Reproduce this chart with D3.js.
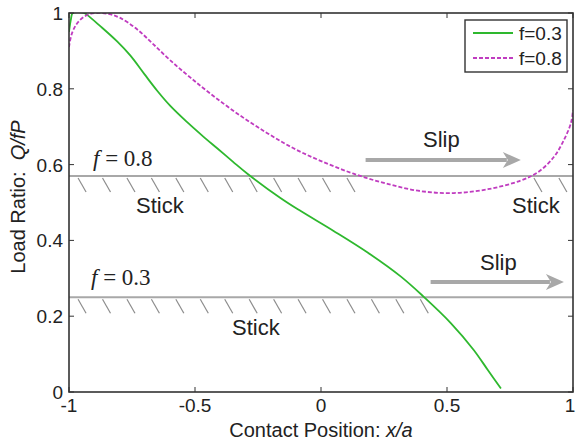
<!DOCTYPE html>
<html>
<head>
<meta charset="utf-8">
<script src="https://cdn.jsdelivr.net/npm/d3@7"></script>
<style>
  body { margin: 0; background: #fff; }
  text { font-family: "Liberation Sans", Arial, sans-serif; fill: #222; }
</style>
</head>
<body>
<div id="chart"></div>
<script>
// values
const xTicks = [-1, -0.5, 0, 0.5, 1];
const yTicks = [0, 0.2, 0.4, 0.6, 0.8, 1];

const xF03 = [-1, -0.992, -0.985, -0.94, -0.928, -0.877, -0.809, -0.757, -0.7, -0.65, -0.598, -0.531, -0.467, -0.412, -0.35, -0.292, -0.161, -0.082, 0.05, 0.185, 0.316, 0.408, 0.515, 0.606, 0.662, 0.714];
const yF03 = [0.95, 0.985, 1.0, 1.0, 0.995, 0.966, 0.925, 0.888, 0.838, 0.795, 0.755, 0.712, 0.674, 0.643, 0.608, 0.576, 0.512, 0.478, 0.425, 0.368, 0.305, 0.251, 0.182, 0.111, 0.058, 0.009];

const xF08 = [-1, -0.988, -0.964, -0.93, -0.889, -0.84, -0.797, -0.73, -0.666, -0.598, -0.519, -0.427, -0.32, -0.213, -0.109, -0.002, 0.129, 0.264, 0.396, 0.527, 0.662, 0.793, 0.861, 0.924, 0.964, 0.992, 1.0];
const yF08 = [0.91, 0.947, 0.976, 0.994, 1.0, 0.997, 0.987, 0.957, 0.918, 0.875, 0.83, 0.781, 0.729, 0.683, 0.643, 0.61, 0.576, 0.549, 0.53, 0.525, 0.535, 0.558, 0.58, 0.62, 0.665, 0.71, 0.744];

const legendLabels = ["f=0.3", "f=0.8"];
const limitValues = [0.57, 0.25];
const limitLabels = ["0.8", "0.3"];

const width = 576, height = 442;
const margin = { top: 13, right: 3, bottom: 50, left: 69 };

const svg = d3.select("#chart").append("svg")
  .attr("width", width)
  .attr("height", height);

const x = d3.scaleLinear().domain([-1, 1]).range([margin.left, width - margin.right]);
const y = d3.scaleLinear().domain([0, 1]).range([height - margin.bottom, margin.top]);

svg.append("clipPath").attr("id", "plot-clip")
  .append("rect")
  .attr("x", x(-1)).attr("y", y(1))
  .attr("width", x(1) - x(-1)).attr("height", y(0) - y(1));

const grey = "#a8a8a8";
const hatchGrey = "#8c8c8c";

// stick/slip limit lines with hatching
limitValues.forEach(v => {
  svg.append("line")
    .attr("x1", x(-1)).attr("x2", x(1))
    .attr("y1", y(v)).attr("y2", y(v))
    .attr("stroke", grey).attr("stroke-width", 2);
});

const hatch08 = d3.range(12).map(i => -0.964 + i * 0.097).concat([0.845, 0.944]);
const hatch03 = d3.range(15).map(i => -0.964 + i * 0.097);

function drawHatch(list, v) {
  svg.append("g").selectAll("line")
    .data(list)
    .enter().append("line")
    .attr("x1", d => x(d))
    .attr("y1", y(v) + 2)
    .attr("x2", d => x(d) + 8)
    .attr("y2", y(v) + 16)
    .attr("stroke", hatchGrey)
    .attr("stroke-width", 1.2);
}
drawHatch(hatch08, limitValues[0]);
drawHatch(hatch03, limitValues[1]);

// f = ... labels
function fLabel(px, py, val) {
  const t = svg.append("text")
    .attr("x", px).attr("y", py)
    .style("font-family", '"Liberation Serif", "Times New Roman", serif')
    .style("font-size", "23px");
  t.append("tspan").style("font-style", "italic").text("f");
  t.append("tspan").text(" = " + val);
}
fLabel(93, 166, limitLabels[0]);
fLabel(91, 285, limitLabels[1]);

// Stick / Slip annotations
const notes = [
  { t: "Stick", px: 136, py: 213 },
  { t: "Stick", px: 512, py: 213 },
  { t: "Stick", px: 232, py: 335 },
  { t: "Slip", px: 423, py: 147 },
  { t: "Slip", px: 480, py: 270 }
];
svg.append("g").selectAll("text")
  .data(notes)
  .enter().append("text")
  .attr("x", d => d.px).attr("y", d => d.py)
  .style("font-size", "22px")
  .text(d => d.t);

// arrows
function arrow(x0, x1, v) {
  const yy = y(v);
  svg.append("line")
    .attr("x1", x(x0)).attr("x2", x(x1) - 14)
    .attr("y1", yy).attr("y2", yy)
    .attr("stroke", grey).attr("stroke-width", 4);
  svg.append("path")
    .attr("d", `M${x(x1)},${yy} L${x(x1) - 18},${yy - 8} L${x(x1) - 13},${yy} L${x(x1) - 18},${yy + 8} Z`)
    .attr("fill", grey);
}
arrow(0.177, 0.793, 0.612);
arrow(0.435, 0.964, 0.29);

// curves
const line = d3.line()
  .x(d => x(d[0]))
  .y(d => y(d[1]))
  .curve(d3.curveCatmullRom.alpha(0.5));

const curves = svg.append("g").attr("clip-path", "url(#plot-clip)");

curves.append("path")
  .datum(d3.zip(xF03, yF03))
  .attr("d", line)
  .attr("fill", "none")
  .attr("stroke", "#2eb82e")
  .attr("stroke-width", 1.8);

curves.append("path")
  .datum(d3.zip(xF08, yF08))
  .attr("d", line)
  .attr("fill", "none")
  .attr("stroke", "#c03cc0")
  .attr("stroke-width", 1.8)
  .attr("stroke-dasharray", "4,2");

// frame and axes (ticks inside, mirrored like MATLAB)
const axisColor = "#333";
svg.append("rect")
  .attr("x", x(-1)).attr("y", y(1))
  .attr("width", x(1) - x(-1)).attr("height", y(0) - y(1))
  .attr("fill", "none").attr("stroke", axisColor).attr("stroke-width", 1.6);

const tickLen = 5;
svg.append("g").selectAll("line")
  .data(xTicks).enter().append("line")
  .attr("x1", d => x(d)).attr("x2", d => x(d))
  .attr("y1", y(0)).attr("y2", y(0) - tickLen)
  .attr("stroke", axisColor);
svg.append("g").selectAll("line")
  .data(xTicks).enter().append("line")
  .attr("x1", d => x(d)).attr("x2", d => x(d))
  .attr("y1", y(1)).attr("y2", y(1) + tickLen)
  .attr("stroke", axisColor);
svg.append("g").selectAll("line")
  .data(yTicks).enter().append("line")
  .attr("x1", x(-1)).attr("x2", x(-1) + tickLen)
  .attr("y1", d => y(d)).attr("y2", d => y(d))
  .attr("stroke", axisColor);
svg.append("g").selectAll("line")
  .data(yTicks).enter().append("line")
  .attr("x1", x(1)).attr("x2", x(1) - tickLen)
  .attr("y1", d => y(d)).attr("y2", d => y(d))
  .attr("stroke", axisColor);

svg.append("g").selectAll("text")
  .data(xTicks).enter().append("text")
  .attr("x", d => Math.min(x(d), width - 6))
  .attr("y", y(0) + 20)
  .attr("text-anchor", "middle")
  .style("font-size", "19px")
  .text(d => d);

svg.append("g").selectAll("text")
  .data(yTicks).enter().append("text")
  .attr("x", x(-1) - 6)
  .attr("y", d => y(d) + 7)
  .attr("text-anchor", "end")
  .style("font-size", "19px")
  .text(d => d);

// axis labels
const xl = svg.append("text")
  .attr("x", (x(-1) + x(1)) / 2)
  .attr("y", 437)
  .attr("text-anchor", "middle")
  .style("font-size", "20px");
xl.append("tspan").text("Contact Position: ");
xl.append("tspan").style("font-style", "italic").text("x/a");

const yl = svg.append("text")
  .attr("transform", `translate(25,197) rotate(-90)`)
  .attr("text-anchor", "middle")
  .style("font-size", "20px");
yl.append("tspan").text("Load Ratio:\u00a0 ");
yl.append("tspan").style("font-style", "italic").text("Q/fP");

// legend
const lg = svg.append("g");
lg.append("rect")
  .attr("x", 465).attr("y", 20)
  .attr("width", 102).attr("height", 52)
  .attr("fill", "#fff").attr("stroke", axisColor).attr("stroke-width", 1.4);
const legendStyles = [
  { c: "#2eb82e", dash: null },
  { c: "#c03cc0", dash: "4,2" }
];
legendLabels.forEach((lab, i) => {
  const ly = 33 + i * 25;
  lg.append("line")
    .attr("x1", 473).attr("x2", 513)
    .attr("y1", ly).attr("y2", ly)
    .attr("stroke", legendStyles[i].c)
    .attr("stroke-width", 1.8)
    .attr("stroke-dasharray", legendStyles[i].dash);
  lg.append("text")
    .attr("x", 519).attr("y", ly + 7)
    .style("font-size", "19px")
    .text(lab);
});
</script>
</body>
</html>
